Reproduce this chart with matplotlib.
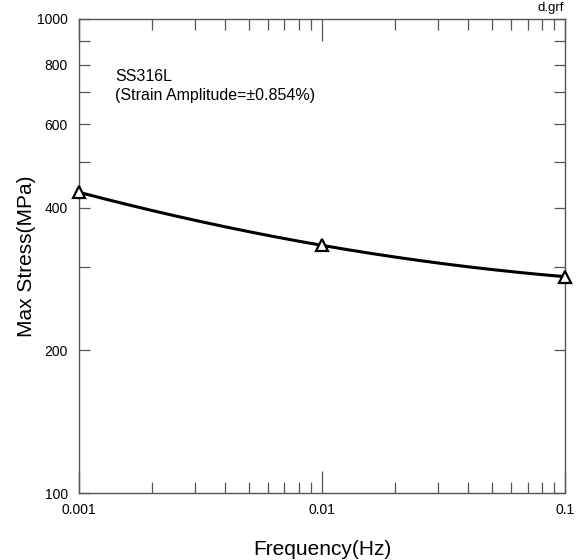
import numpy as np
import matplotlib.pyplot as plt
from matplotlib.ticker import FixedLocator, NullFormatter, FixedFormatter

plt.rcParams['font.family'] = ['Liberation Sans', 'DejaVu Sans']

# data
freq = [0.001, 0.01, 0.1]
stress = [431, 333, 286]

y_ticks = [100, 200, 300, 400, 500, 600, 700, 800, 900, 1000]
y_labels = ['100', '200', '', '400', '', '600', '', '800', '', '1000']
x_ticks = [0.001, 0.01, 0.1]
x_labels = ['0.001', '0.01', '0.1']

fig = plt.figure(figsize=(5.83, 5.60), dpi=100)
ax = fig.add_axes([0.1355, 0.1196, 0.834, 0.8465])

# fitted curve (quadratic in log-log space)
lx = np.log10(freq)
ly = np.log10(stress)
coef = np.polyfit(lx, ly, 2)
xs = np.linspace(lx[0], lx[-1], 200)
ax.plot(10**xs, 10**np.polyval(coef, xs), color='black', lw=2.2, zorder=2)
ax.plot(freq, stress, linestyle='none', marker='^', markersize=9,
        markerfacecolor='white', markeredgecolor='black', markeredgewidth=1.6,
        zorder=3, clip_on=False)

ax.set_xscale('log')
ax.set_yscale('log')
ax.set_xlim(0.001, 0.1)
ax.set_ylim(100, 1000)

ax.yaxis.set_major_locator(FixedLocator(y_ticks))
ax.yaxis.set_major_formatter(FixedFormatter(y_labels))
ax.yaxis.set_minor_locator(FixedLocator([]))
ax.xaxis.set_major_locator(FixedLocator(x_ticks))
ax.xaxis.set_major_formatter(FixedFormatter(x_labels))
minors = [m * d for d in (0.001, 0.01) for m in range(2, 10)]
ax.xaxis.set_minor_locator(FixedLocator(minors))
ax.xaxis.set_minor_formatter(NullFormatter())

ax.tick_params(axis='both', which='both', direction='in', top=True, right=True,
               color='#555555', width=0.9, labelsize=10)
ax.tick_params(axis='x', which='major', length=16, pad=7)
ax.tick_params(axis='x', which='minor', length=8)
ax.tick_params(axis='y', which='major', length=8, pad=8)

for s in ax.spines.values():
    s.set_color('#555555')
    s.set_linewidth(1.0)

ax.set_xlabel('Frequency(Hz)', fontsize=15, labelpad=17)
ax.set_ylabel('Max Stress(MPa)', fontsize=15, labelpad=1)

ax.text(0.074, 0.895, 'SS316L\n(Strain Amplitude=\u00b10.854%)',
        transform=ax.transAxes, fontsize=11.5, va='top', ha='left', linespacing=1.35)
fig.text(0.968, 0.975, 'd.grf', fontsize=9.5, ha='right', va='bottom')

fig.savefig('out.png', dpi=100)
